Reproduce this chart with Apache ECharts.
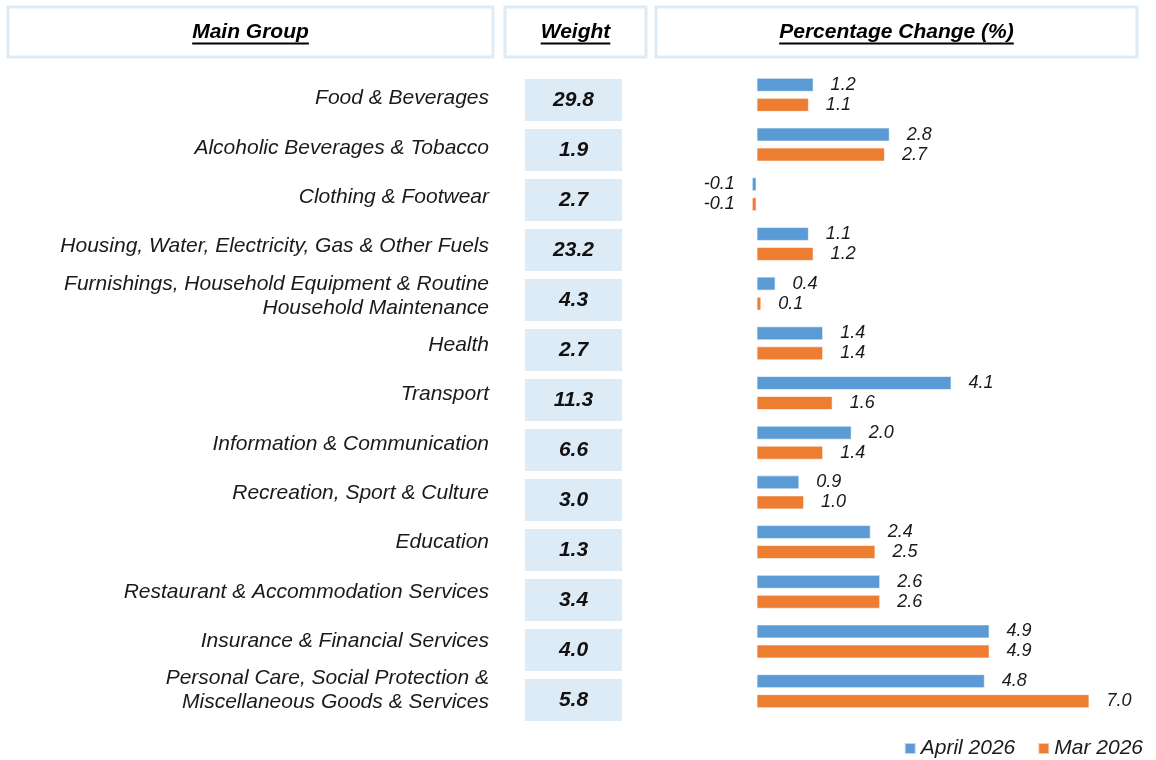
<!DOCTYPE html>
<html>
<head>
<meta charset="utf-8">
<title>Percentage Change by Main Group</title>
<script src="https://cdn.jsdelivr.net/npm/echarts@6/dist/echarts.min.js"></script>
<style>
  html, body { margin: 0; padding: 0; background: #fff; }
  #chart { width: 1156px; height: 760px; }
</style>
</head>
<body>
<div id="chart"></div>
<script>
// data
const groups = [
  'Food & Beverages',
  'Alcoholic Beverages & Tobacco',
  'Clothing & Footwear',
  'Housing, Water, Electricity, Gas & Other Fuels',
  'Furnishings, Household Equipment & Routine\nHousehold Maintenance',
  'Health',
  'Transport',
  'Information & Communication',
  'Recreation, Sport & Culture',
  'Education',
  'Restaurant & Accommodation Services',
  'Insurance & Financial Services',
  'Personal Care, Social Protection &\nMiscellaneous Goods & Services'
]
const weights = [29.8, 1.9, 2.7, 23.2, 4.3, 2.7, 11.3, 6.6, 3.0, 1.3, 3.4, 4.0, 5.8]
const april2026 = [1.2, 2.8, -0.1, 1.1, 0.4, 1.4, 4.1, 2.0, 0.9, 2.4, 2.6, 4.9, 4.8]
const mar2026 = [1.1, 2.7, -0.1, 1.2, 0.1, 1.4, 1.6, 1.4, 1.0, 2.5, 2.6, 4.9, 7.0]
const seriesNames = ['April 2026', 'Mar 2026']
const headers = ['Main Group', 'Weight', 'Percentage Change (%)']

const FONT = '"Liberation Sans", Arial, sans-serif'
const BOX_BLUE = '#DDEBF7'

const chart = echarts.init(document.getElementById('chart'))

// 测量文字宽度，用来画下划线
const measure = (text, font) => {
  const ctx = document.createElement('canvas').getContext('2d')
  ctx.font = font
  return ctx.measureText(text).width
}

// 表头方框
const headerBoxes = [
  { x: 8, w: 485 },
  { x: 505, w: 141 },
  { x: 656, w: 481 }
]
const headerFont = 'italic bold 21px ' + FONT
const graphic = []
headers.forEach((h, i) => {
  const b = headerBoxes[i]
  const cx = b.x + b.w / 2
  graphic.push({
    type: 'rect',
    shape: { x: b.x, y: 7, width: b.w, height: 50 },
    style: { fill: '#fff', stroke: BOX_BLUE, lineWidth: 3 }
  })
  graphic.push({
    type: 'text',
    x: cx,
    y: 32,
    style: {
      text: h,
      fill: '#000',
      font: headerFont,
      align: 'center',
      verticalAlign: 'middle'
    }
  })
  const tw = measure(h, headerFont)
  graphic.push({
    type: 'line',
    shape: { x1: cx - tw / 2, y1: 43.5, x2: cx + tw / 2, y2: 43.5 },
    style: { stroke: '#000', lineWidth: 1.8 }
  })
})

const barLabel = (v) => ({
  show: true,
  position: v < 0 ? 'left' : 'right',
  distance: 17,
  formatter: (p) => p.value.toFixed(1),
  fontStyle: 'italic',
  fontSize: 18,
  fontFamily: FONT,
  color: '#1a1a1a'
})

const makeBarSeries = (name, values, color) => ({
  name: name,
  type: 'bar',
  xAxisIndex: 0,
  yAxisIndex: 0,
  barWidth: 14,
  barGap: '43%',
  itemStyle: { color: color, borderColor: 'rgba(255,255,255,0.6)', borderWidth: 1 },
  data: values.map(v => ({ value: v, label: barLabel(v) }))
})

const option = {
  animation: false,
  backgroundColor: '#fff',
  textStyle: { fontFamily: FONT },
  graphic: graphic,
  legend: {
    data: seriesNames,
    right: 8,
    top: 733,
    itemWidth: 11,
    itemHeight: 11,
    itemGap: 22,
    icon: 'rect',
    textStyle: { fontSize: 21, fontStyle: 'italic', color: '#1a1a1a', fontFamily: FONT }
  },
  grid: [
    // 柱状图
    { left: 709, top: 70, width: 428, height: 646 },
    // 权重方块
    { left: 525, top: 75, width: 97, height: 650 },
    // 分组名称
    { left: 525, top: 74, width: 97, height: 641 }
  ],
  xAxis: [
    { gridIndex: 0, type: 'value', min: -1, max: 8, show: false },
    { gridIndex: 1, type: 'value', min: -1, max: 1, show: false },
    { gridIndex: 2, type: 'value', min: -1, max: 1, show: false }
  ],
  yAxis: [
    { gridIndex: 0, type: 'category', data: groups, inverse: true, show: false },
    { gridIndex: 1, type: 'category', data: groups, inverse: true, show: false },
    {
      gridIndex: 2,
      type: 'category',
      data: groups,
      inverse: true,
      axisLine: { show: false },
      axisTick: { show: false },
      splitLine: { show: false },
      axisLabel: {
        margin: 36,
        fontSize: 21,
        fontStyle: 'italic',
        fontFamily: FONT,
        color: '#1a1a1a',
        lineHeight: 24,
        align: 'right'
      }
    }
  ],
  series: [
    makeBarSeries(seriesNames[0], april2026, '#5B9BD5'),
    makeBarSeries(seriesNames[1], mar2026, '#ED7D31'),
    {
      name: 'Weight',
      type: 'scatter',
      xAxisIndex: 1,
      yAxisIndex: 1,
      symbol: 'rect',
      symbolSize: [97, 42],
      itemStyle: { color: BOX_BLUE, opacity: 1 },
      label: {
        show: true,
        position: 'inside',
        formatter: (p) => p.value[2].toFixed(1),
        fontSize: 21,
        fontWeight: 'bold',
        fontStyle: 'italic',
        fontFamily: FONT,
        color: '#111'
      },
      data: weights.map((w, i) => [0, i, w])
    }
  ]
}

chart.setOption(option)
</script>
</body>
</html>
